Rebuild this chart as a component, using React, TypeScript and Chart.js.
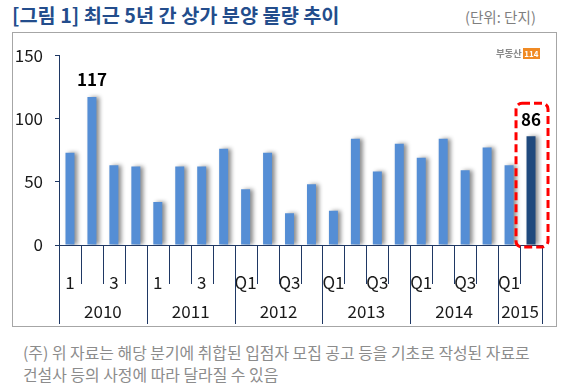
import React, { useEffect, useRef } from "react";
import { Chart, registerables } from "chart.js";

Chart.register(...registerables);

const quarterLabels = [
  "1", "", "3", "",
  "1", "", "3", "",
  "Q1", "", "Q3", "",
  "Q1", "", "Q3", "",
  "Q1", "", "Q3", "",
  "Q1", "",
];
const years = ["2010", "2011", "2012", "2013", "2014", "2015"];
const quartersPerYear = [4, 4, 4, 4, 4, 2];
const values = [
  73, 117, 63, 62,
  34, 62, 62, 76,
  44, 73, 25, 48,
  27, 84, 58, 80,
  69, 84, 59, 77,
  63, 86,
];
const labelledIndices = [1, 21];
const highlightIndex = 21;
const yTicks = [0, 50, 100, 150];

const FONT = "'Noto Sans CJK KR', 'Noto Sans', sans-serif";
const NAVY = "#1f3864";
const LIGHT = "#558ed5";
const DARK = "#1f497d";

export default function App() {
  const ref = useRef<HTMLCanvasElement | null>(null);

  useEffect(() => {
    document.body.style.margin = "0";
    const canvas = ref.current;
    if (!canvas) return;

    const shadowPlugin = {
      id: "barShadow",
      beforeDatasetsDraw(chart: any) {
        const ctx = chart.ctx;
        ctx.save();
        ctx.shadowColor = "rgba(0,0,0,0.45)";
        ctx.shadowOffsetX = 3;
        ctx.shadowOffsetY = 0;
        ctx.shadowBlur = 4;
      },
      afterDatasetsDraw(chart: any) {
        chart.ctx.restore();
      },
    };

    const decorPlugin = {
      id: "decor",
      afterDraw(chart: any) {
        const ctx = chart.ctx;
        const xs = chart.scales.x;
        const area = chart.chartArea;
        const w = xs.getPixelForValue(1) - xs.getPixelForValue(0);
        const bottom = area.bottom;
        ctx.save();
        ctx.strokeStyle = NAVY;
        ctx.lineWidth = 1;
        const boundaries: number[] = [0];
        let acc = 0;
        quartersPerYear.forEach((q) => {
          acc += q;
          boundaries.push(acc);
        });
        for (let i = 0; i <= quarterLabels.length; i++) {
          const x = Math.round(xs.getPixelForValue(i) - w / 2) + 0.5;
          const isYear = boundaries.indexOf(i) >= 0;
          ctx.beginPath();
          ctx.moveTo(x, bottom);
          ctx.lineTo(x, bottom + (isYear ? 79 : 39));
          ctx.stroke();
        }
        ctx.fillStyle = "#1a1a1a";
        ctx.font = `17px ${FONT}`;
        ctx.textAlign = "center";
        ctx.textBaseline = "middle";
        years.forEach((yr, k) => {
          const a = xs.getPixelForValue(boundaries[k]) - w / 2;
          const b = xs.getPixelForValue(boundaries[k + 1]) - w / 2;
          ctx.fillText(yr, (a + b) / 2, bottom + 67);
        });
        const meta = chart.getDatasetMeta(0);
        ctx.fillStyle = "#000";
        ctx.font = `bold 17px ${FONT}`;
        labelledIndices.forEach((i) => {
          const el = meta.data[i];
          ctx.fillText(String(values[i]), el.x, el.y - 17);
        });
        const hb = meta.data[highlightIndex];
        const left = hb.x - 15;
        const right = hb.x + 17;
        const top = hb.y - 33;
        const bot = bottom + 2;
        const r = 6;
        ctx.strokeStyle = "#ff0000";
        ctx.lineWidth = 3;
        ctx.setLineDash([8, 4]);
        ctx.beginPath();
        ctx.moveTo(left + r, top);
        ctx.lineTo(right - r, top);
        ctx.arcTo(right, top, right, top + r, r);
        ctx.lineTo(right, bot - r);
        ctx.arcTo(right, bot, right - r, bot, r);
        ctx.lineTo(left + r, bot);
        ctx.arcTo(left, bot, left, bot - r, r);
        ctx.lineTo(left, top + r);
        ctx.arcTo(left, top, left + r, top, r);
        ctx.closePath();
        ctx.stroke();
        ctx.restore();
      },
    };

    const chart = new Chart(canvas, {
      type: "bar",
      data: {
        labels: quarterLabels,
        datasets: [
          {
            data: values,
            backgroundColor: values.map((_, i) => (i === highlightIndex ? DARK : LIGHT)),
            borderWidth: 0,
            barPercentage: 0.41,
            categoryPercentage: 1,
          },
        ],
      },
      options: {
        responsive: false,
        animation: false,
        layout: { padding: { top: 20, right: 14, left: 0, bottom: 0 } },
        plugins: {
          legend: { display: false },
          tooltip: { enabled: false },
          title: { display: false },
        },
        scales: {
          x: {
            grid: { display: false },
            border: { display: true, color: NAVY, width: 1 },
            ticks: {
              autoSkip: false,
              maxRotation: 0,
              minRotation: 0,
              padding: 19,
              color: "#1a1a1a",
              font: { family: FONT, size: 17 },
            },
            afterFit: (s: any) => {
              s.height = 81;
            },
          },
          y: {
            min: 0,
            max: 150,
            afterBuildTicks: (s: any) => {
              s.ticks = yTicks.map((v) => ({ value: v }));
            },
            grid: {
              drawOnChartArea: false,
              drawTicks: true,
              tickLength: 4,
              color: NAVY,
            },
            border: { display: true, color: NAVY, width: 1 },
            ticks: {
              padding: 12,
              color: "#1a1a1a",
              font: { family: FONT, size: 17 },
            },
            afterFit: (s: any) => {
              s.width = 46;
            },
          },
        },
      },
      plugins: [shadowPlugin, decorPlugin],
    });
    return () => chart.destroy();
  }, []);

  return (
    <div style={{ position: "relative", width: 570, height: 392, background: "#fff", fontFamily: FONT, overflow: "hidden" }}>
      <div style={{ position: "absolute", left: 12, top: 5, fontSize: 19.7, lineHeight: "20px", fontWeight: 700, color: "#234d8c", whiteSpace: "nowrap" }}>
        [그림 1] 최근 5년 간 상가 분양 물량 추이
      </div>
      <div style={{ position: "absolute", left: 465, top: 9, fontSize: 14.6, lineHeight: "16px", color: "#7f7f7f", whiteSpace: "nowrap" }}>
        (단위: 단지)
      </div>
      <div style={{ position: "absolute", left: 12, top: 32, width: 545, height: 295, border: "1px solid #a6a6a6", boxSizing: "border-box" }} />
      <canvas ref={ref} width={543} height={293} style={{ position: "absolute", left: 13, top: 33 }} />
      <div style={{ position: "absolute", left: 496, top: 47, height: 12, display: "flex", alignItems: "center", whiteSpace: "nowrap" }}>
        <span style={{ fontSize: 9.5, fontWeight: 700, color: "#8a8a8a", lineHeight: "12px", letterSpacing: -0.3 }}>부동산</span>
        <span style={{ marginLeft: 2, background: "#f08a24", color: "#fff", fontSize: 8, fontWeight: 700, lineHeight: "11px", padding: "0 1px" }}>114</span>
      </div>
      <div style={{ position: "absolute", left: 23, top: 342, fontSize: 15.9, lineHeight: "22px", color: "#8c8c8c", whiteSpace: "nowrap" }}>
        (주) 위 자료는 해당 분기에 취합된 입점자 모집 공고 등을 기초로 작성된 자료로
        <br />
        건설사 등의 사정에 따라 달라질 수 있음
      </div>
    </div>
  );
}
